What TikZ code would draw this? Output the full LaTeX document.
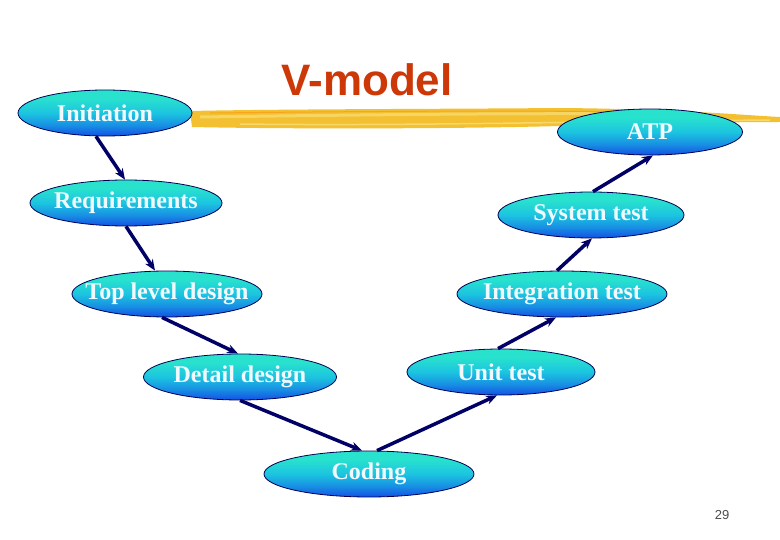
\documentclass[tikz,border=0pt]{standalone}
\usepackage{fontspec}
\setmainfont{Liberation Serif}
\newfontfamily\titlefont{Liberation Sans}
\usetikzlibrary{shapes.geometric, arrows.meta, positioning, calc}
\definecolor{vnavy}{RGB}{0,0,102}
\definecolor{vtop}{RGB}{40,226,206}
\definecolor{vmid}{RGB}{28,196,224}
\definecolor{vlow}{RGB}{24,140,228}
\definecolor{vbot}{RGB}{20,80,228}
\definecolor{vtitle}{RGB}{204,56,8}
\definecolor{vgold}{RGB}{242,192,48}
\definecolor{vpale}{RGB}{250,222,120}
\pgfdeclareverticalshading{vshade}{100bp}{color(0bp)=(vbot); color(25bp)=(vbot); color(36bp)=(vlow); color(50bp)=(vmid); color(66bp)=(vtop); color(100bp)=(vtop)}
\newcommand{\vt}[1]{\makebox[0pt]{#1}}

\begin{document}
\begin{tikzpicture}[x=1pt,y=-1pt, v/.style={ellipse,draw=vnavy!80!black,line width=0.8pt,shading=vshade,inner sep=0pt,minimum height=46pt,text=white!94!cyan,font=\fontsize{24}{26}\selectfont\bfseries}]
  \useasboundingbox (0,0) rectangle (780,540);
  % highlighter stroke under the title
  \fill[vgold] (190,111) .. controls (280,109) and (450,109) .. (560,108) .. controls (680,109) and (740,115) .. (780,117) -- (780,122) .. controls (720,122) and (640,124) .. (560,126) .. controls (450,129) and (280,129) .. (192,127) -- cycle;
  \draw[vpale,line width=3pt,opacity=0.7] (200,117) .. controls (350,115) and (500,113) .. (650,114);
  \draw[vpale,line width=1.5pt,opacity=0.8] (240,124) .. controls (400,126) and (550,122) .. (770,120);
  \draw[orange!80!vgold,line width=1pt,opacity=0.5] (210,113) .. controls (400,111) and (550,110) .. (700,113);
  \node[font=\titlefont\fontsize{44}{48}\selectfont\bfseries,text=vtitle] (title) at (367,80) {V-model};
  % left branch
  \node[v,minimum width=174pt] (ini) at (105,113) {\vt{Initiation}};
  \node[v,minimum width=192pt] (req) at (126,203) {\vt{Requirements}};
  \node[v,minimum width=190pt] (tld) at (167,294) {\vt{Top level design}};
  \node[v,minimum width=193pt] (det) at (240,377) {\vt{Detail design}};
  \node[v,minimum width=210pt] (cod) at (369,474) {\vt{Coding}};
  % right branch
  \node[v,minimum width=188pt] (uni) at (501,372) {\vt{Unit test}};
  \node[v,minimum width=210pt] (int) at (562,294) {\vt{Integration test}};
  \node[v,minimum width=186pt] (sys) at (591,215) {\vt{System test}};
  \node[v,minimum width=185pt] (atp) at (650,132) {\vt{ATP}};
  \foreach \x/\sx/\y/\sy in {ini/-9/req/-1,req/0/tld/-12,tld/-5/det/-2,det/0/cod/-7}{\draw[-{Stealth[length=11pt,width=9pt]},line width=3.5pt,vnavy]([xshift=\sx pt]\x.south)--([xshift=\sy pt]\y.north);}
  \foreach \x/\sx/\y/\sy in {cod/8/uni/-4,uni/-3/int/-6,int/-5/sys/1,sys/2/atp/3}{\draw[-{Stealth[length=11pt,width=9pt]},line width=3.5pt,vnavy]([xshift=\sx pt]\x.north)--([xshift=\sy pt]\y.south);}
  \node[font=\titlefont\fontsize{13}{15}\selectfont,text=black!70] (page) at (722,515) {29};
\end{tikzpicture}
\end{document}
